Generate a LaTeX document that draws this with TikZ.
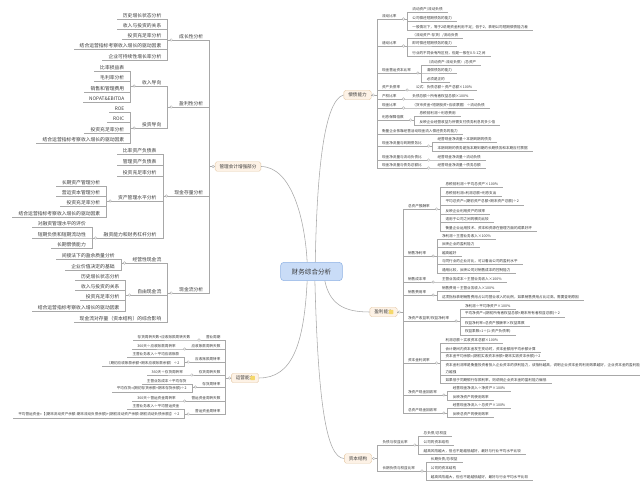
\documentclass[tikz,border=0pt]{standalone}
\usepackage{fontspec}
\setmainfont{Noto Sans CJK SC}
\usetikzlibrary{calc,positioning}
\definecolor{mmline}{HTML}{A8A8A8}
\definecolor{mmtext}{HTML}{3A3A3A}
\definecolor{mmroot}{HTML}{C9DCF7}
\definecolor{mmrootedge}{HTML}{8FB2E4}
\definecolor{mmmain}{HTML}{FDF2E6}
\definecolor{mmmainedge}{HTML}{E5C8A4}
\definecolor{mmicon}{HTML}{F5D86A}
\newcommand{\itemfont}{\fontsize{3.6}{4.4}\selectfont}
\newcommand{\itempad}{5pt}
\tikzset{
  rootBox/.style={draw=mmrootedge, fill=mmroot, rounded corners=3pt, inner xsep=11pt, inner ysep=6pt, font=\fontsize{6.6}{8}\selectfont, text=mmtext, line width=0.5pt},
  mainBox/.style={draw=mmmainedge, fill=mmmain, rounded corners=1.8pt, inner xsep=4.5pt, inner ysep=2.6pt, font=\fontsize{4.6}{5.5}\selectfont, text=mmtext, line width=0.4pt},
  itemR/.style={anchor=south west, inner xsep=\itempad, inner ysep=1.1pt, align=left, font=\itemfont, text=mmtext},
  itemL/.style={anchor=south east, inner xsep=\itempad, inner ysep=1.1pt, align=right, font=\itemfont, text=mmtext},
  link/.style={draw=mmline, line width=0.35pt},
  trunk/.style={draw=mmline, line width=0.55pt},
  knob/.style={circle, draw=mmline, fill=white, inner sep=0pt, minimum size=2.6pt, line width=0.3pt}
}
% children to the right of a parent point
\newcommand{\kidsR}[3]{%
  \coordinate (#2-b) at ($(#1)+(5.5,0)$);
  \foreach \yy/\txt [count=\i] in {#3}{
    \node[itemR] (#2-\i) at (#2-b |- 0,\yy) {\txt};
    \draw[link] (#1) -| (#2-\i.south west) -- (#2-\i.south east);
  }
  \node[knob] (#2-k) at ($(#1)+(1.8,0)$) {};
}
% children to the left of a parent point
\newcommand{\kidsL}[3]{%
  \coordinate (#2-b) at ($(#1)+(-5.5,0)$);
  \foreach \yy/\txt [count=\i] in {#3}{
    \node[itemL] (#2-\i) at (#2-b |- 0,\yy) {\txt};
    \draw[link] (#1) -| (#2-\i.south east) -- (#2-\i.south west);
  }
  \node[knob] (#2-k) at ($(#1)+(-1.8,0)$) {};
}

\begin{document}
\begin{tikzpicture}[x=1pt,y=-1pt]
  \fill[white] (0,0) rectangle (640,486);
  \useasboundingbox (0,0) rectangle (640,486);

  \node[rootBox] (root) at (311.5,271.5) {财务综合分析};
  \node[mainBox] (solv) at (357.5,95) {偿债能力};
  \node[mainBox] (mgmt) at (238,166.5) {管理会计增强部分};
  \node[mainBox] (prof) at (383.5,312) {盈利能力\hspace{7pt}};
  \node[mainBox] (ops) at (245,378) {运营能力\hspace{7pt}};
  \node[mainBox] (cap) at (358,458.5) {资本结构};
  \fill[mmicon, rounded corners=0.6pt] ($(prof.east)+(-8.5,-2.2)$) rectangle ++(4.4,4.4);
  \fill[mmicon, rounded corners=0.6pt] ($(ops.east)+(-8.5,-2.2)$) rectangle ++(4.4,4.4);

  \draw[trunk] (root.115) .. controls (305,220) and (292,167) .. (mgmt.east);
  \draw[trunk] (root.68) .. controls (317,165) and (325,100) .. (solv.west);
  \draw[trunk] (root.245) .. controls (304,345) and (292,378) .. (ops.east);
  \draw[trunk] (root.290) .. controls (318,400) and (326,458) .. (cap.west);
  \draw[trunk] (root.325) .. controls (330,305) and (345,312) .. (prof.west);

  % 偿债能力
  \kidsR{solv.east}{solv}{19/流动比率, 46/速动比率, 73/现金营运资本比率, 90/资产负债率, 99/产权比率, 108/现金比率, 120/利息保障倍数, 134/衡量企业依靠经营活动现金流入偿还债务的能力, 146/现金净流量与到期债务比, 160/现金净流量与流动负债比, 168/现金净流量与债务总额比}
  \kidsR{solv-1.south east}{solv-1}{12/{流动资产/流动负债}, 21/公司偿还短期债务的能力, 30/一般情况下，等于2说明资金利用不足；低于2，表明公司短期偿债能力差}
  \kidsR{solv-2.south east}{solv-2}{38/{（流动资产-存货）/流动负债}, 46/即时偿还短期债务的能力, 56/行业的不同会有所区别，但是一般在0.5-1之间}
  \kidsR{solv-3.south east}{solv-3}{65/{（流动资产-流动负债）/总资产}, 73/清偿债务的能力, 82/必须是正的}
  \kidsR{solv-4.south east}{solv-4}{90/公式：负债总额÷资产总额×100\%}
  \kidsR{solv-5.south east}{solv-5}{99/负债总额÷所有者权益总额×100\%}
  \kidsR{solv-6.south east}{solv-6}{108/（货币资金+短期投资+应收票据）÷流动负债}
  \kidsR{solv-7.south east}{solv-7}{116/息税前利润÷利息费用, 125/反映企业经营收益为所需支付债务利息的多少倍}
  \kidsR{solv-9.south east}{solv-9}{142/经营现金净流量÷本期到期的债务, 151/本期到期的债务是指本期到期的长期债务和本期应付票据}
  \kidsR{solv-10.south east}{solv-10}{160/经营现金净流量÷流动负债}
  \kidsR{solv-11.south east}{solv-11}{168/经营现金净流量÷债务总额}

  % 盈利能力
  \kidsR{prof.east}{prof}{209/总资产报酬率, 256/销售净利率, 282/销售成本率, 295/销售费用率, 321/{净资产收益率/权益净利率}, 363/资本金利润率, 395/净资产现金回收率, 413/总资产现金回收率}
  \kidsR{prof-1.south east}{prof-1}{187/息税前利润÷平均总资产×100\%, 196/息税前利润=利润总额+利息支出, 205/平均总资产=(期初资产总额+期末资产总额)÷2, 214/反映企业利用资产的效率, 222/适用于公司之间的横向比较, 231/衡量企业运用技术、资本和资源在管理方面的成果好坏}
  \kidsR{prof-2.south east}{prof-2}{239/净利润÷主营业务收入×100\%, 247/反映企业的盈利能力, 256/越高越好, 264/与同行业的企业对比，可以看出公司的盈利水平, 273/通用比较，反映公司对销售成本的控制能力}
  \kidsR{prof-3.south east}{prof-3}{282/主营业务成本÷主营业务收入×100\%}
  \kidsR{prof-4.south east}{prof-4}{291/销售费用÷主营业务收入×100\%, 300/这项指标表明销售费用占公司营业收入的比例，如果销售费用占比过高，需要查明原因}
  \kidsR{prof-5.south east}{prof-5}{309/净利润÷平均净资产×100\%, 317/平均净资产=(期初所有者权益总额+期末所有者权益总额)÷2, 326/权益净利率=总资产报酬率×权益乘数, 335/权益乘数=1÷(1-资产负债率)}
  \kidsR{prof-6.south east}{prof-6}{343/利润总额÷实收资本总额×100\%, 352/会计期间内资本金发生变动时，资本金额用平均余额计算, 360/资本金平均余额=(期初实收资本余额+期末实收资本余额)÷2, 375/{\shortstack[l]{资本金利润率是衡量投资者投入企业资本的获利能力，该指标越高，说明企业资本金的利用效果越好，企业资本金的盈利能\\力越强}}, 383/如果低于同期银行存款利率，则说明企业资本金的盈利能力偏低}
  \kidsR{prof-7.south east}{prof-7}{391/经营现金净流入÷净资产×100\%, 400/反映净资产的使用效率}
  \kidsR{prof-8.south east}{prof-8}{408/经营现金净流入÷总资产×100\%, 417/反映总资产的使用效率}

  % 资本结构
  \kidsR{cap.east}{cap}{445/负债与权益比率, 471/长期负债与权益比率}
  \kidsR{cap-1.south east}{cap-1}{436/{总负债/总权益}, 445/公司的资本结构, 454/越高风险越大，但也不是越低越好，最好与行业平均水平比较}
  \kidsR{cap-2.south east}{cap-2}{462/{长期负债/总权益}, 471/公司的资本结构, 480/越高风险越大，但也不是越低越好，最好与行业平均水平比较}

  % 运营能力
  \kidsL{ops.west}{ops}{340/营业周期, 349/应收账款周转天数, 362/应收账款周转率, 375/存货周转天数, 387/存货周转率, 401/营运资金周转天数, 414/营运资金周转率}
  \kidsL{ops-1.south west}{ops-1}{340/存货周转天数+应收账款周转天数}
  \kidsL{ops-2.south west}{ops-2}{349/360天÷应收账款周转率}
  \kidsL{ops-3.south west}{ops-3}{357/主营业务收入÷平均应收账款, 366/（期初应收账款余额+期末应收账款余额）÷2}
  \kidsL{ops-4.south west}{ops-4}{375/360天÷存货周转率}
  \kidsL{ops-5.south west}{ops-5}{384/主营业务成本÷平均存货, 392/平均存货=(期初存货余额+期末存货余额)÷2}
  \kidsL{ops-6.south west}{ops-6}{401/360天÷营运资金周转率}
  \kidsL{ops-7.south west}{ops-7}{409/主营业务收入÷平均营运资金, 418/平均营运资金=【(期末流动资产余额-期末流动负债余额)+(期初流动资产余额-期初流动负债余额)】÷2}

  % 管理会计增强部分
  \renewcommand{\itemfont}{\fontsize{4.8}{5.8}\selectfont}
  \renewcommand{\itempad}{6pt}
  \kidsL{mgmt.west}{mgmt}{40/成长性分析, 107/盈利性分析, 196/现金存量分析, 293/现金流分析}
  \kidsL{mgmt-1.south west}{mgmt-1}{19/历史增长状态分析, 29/收入与投资的关系, 39/投资充足率分析, 49/结合运营指标考察收入增长的驱动因素, 60/企业可持续性增长率分析}
  \kidsL{mgmt-2.south west}{mgmt-2}{86/收入导向, 128/投资导向}
  \kidsL{mgmt-2-1.south west}{mgmt-2-1}{71/比率损益表, 81/毛利率分析, 92/销售和管理费用, 102/NOPAT\&EBITDA}
  \kidsL{mgmt-2-2.south west}{mgmt-2-2}{112/ROE, 122/ROIC, 133/投资充足率分析, 143/结合运营指标考察收入增长的驱动因素}
  \kidsL{mgmt-3.south west}{mgmt-3}{154/比率资产负债表, 165/管理资产负债表, 176/投资充足率分析, 201/资产管理水平分析, 238/融资能力和财务杠杆分析}
  \kidsL{mgmt-3-4.south west}{mgmt-3-4}{186/长期资产管理分析, 196/营运资本管理分析, 206/投资充足率分析, 217/结合运营指标考察收入增长的驱动因素}
  \kidsL{mgmt-3-5.south west}{mgmt-3-5}{227/对融资管理水平的评价, 238/短期负债和短期流动性, 248/长期偿债能力}
  \kidsL{mgmt-4.south west}{mgmt-4}{263/经营性现金流, 295/自由现金流, 322/现金流对存量（资本结构）的综合影响}
  \kidsL{mgmt-4-1.south west}{mgmt-4-1}{259/间接法下的盈余质量分析, 270/企业价值决定的基础}
  \kidsL{mgmt-4-2.south west}{mgmt-4-2}{280/历史增长状态分析, 290/收入与投资的关系, 300/投资充足率分析, 311/结合运营指标考察收入增长的驱动因素}
\end{tikzpicture}
\end{document}
